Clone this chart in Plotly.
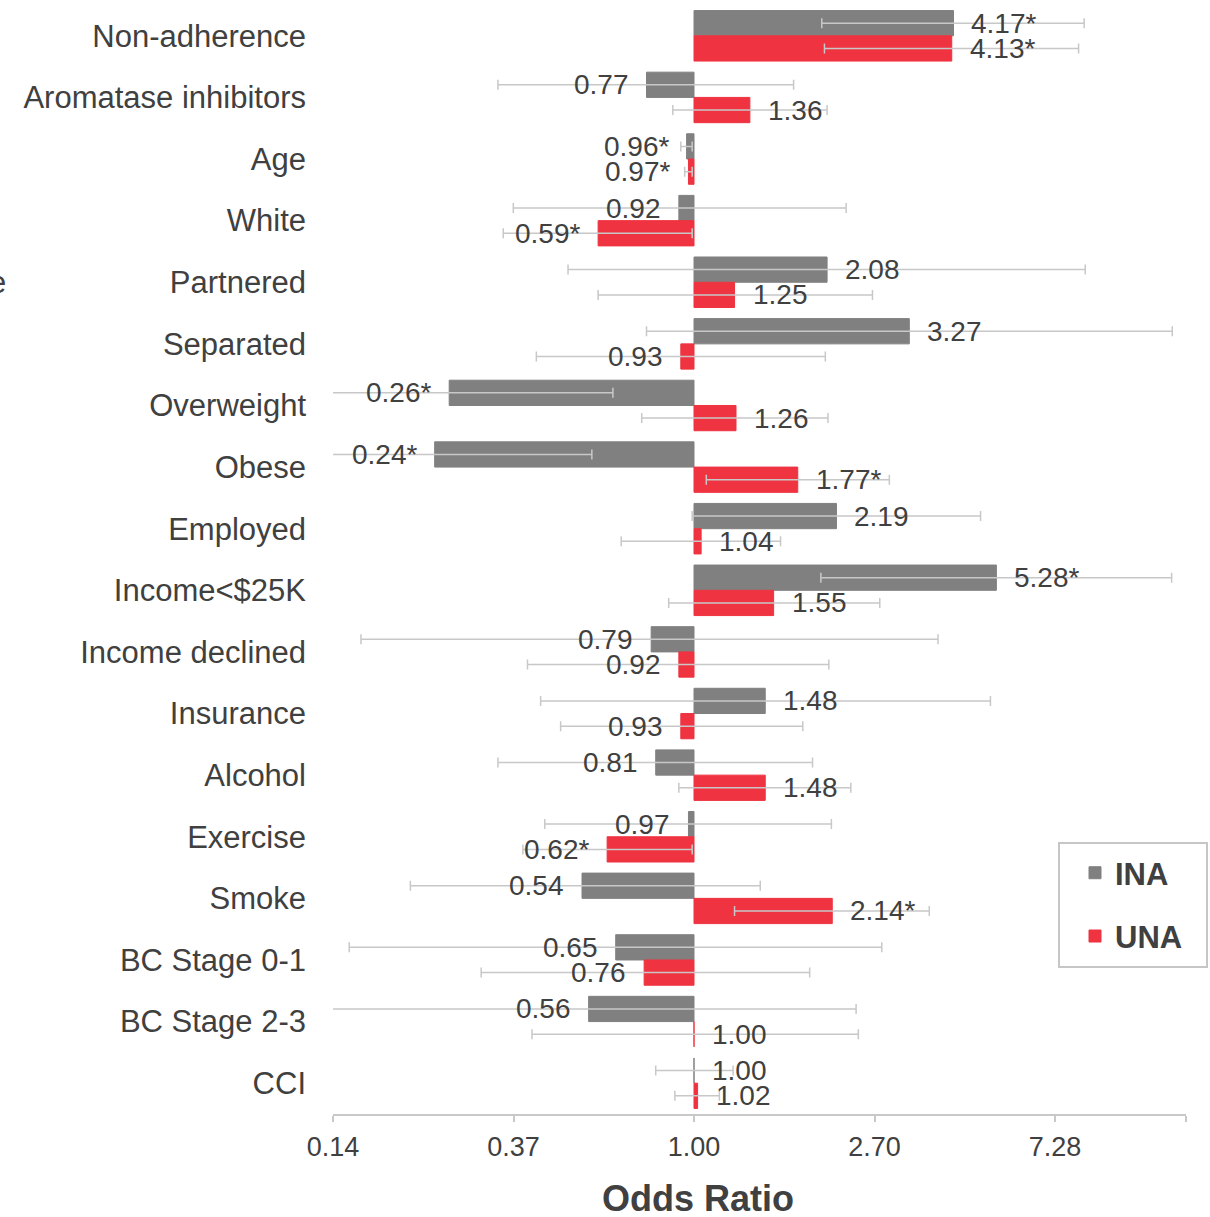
import math
import plotly.graph_objects as go

categories = ["Non-adherence", "Aromatase inhibitors", "Age", "White", "Partnered",
              "Separated", "Overweight", "Obese", "Employed", "Income<$25K",
              "Income declined", "Insurance", "Alcohol", "Exercise", "Smoke",
              "BC Stage 0-1", "BC Stage 2-3", "CCI"]

ina_or = [4.17, 0.77, 0.96, 0.92, 2.08, 3.27, 0.26, 0.24, 2.19, 5.28,
          0.79, 1.48, 0.81, 0.97, 0.54, 0.65, 0.56, 1.00]
ina_lo = [2.02, 0.34, 0.93, 0.37, 0.50, 0.77, 0.10, 0.10, 0.99, 2.01,
          0.16, 0.43, 0.34, 0.44, 0.21, 0.15, 0.12, 0.81]
ina_hi = [8.56, 1.73, 0.99, 2.31, 8.61, 13.9, 0.64, 0.57, 4.84, 13.85,
          3.83, 5.11, 1.92, 2.13, 1.44, 2.81, 2.44, 1.24]
ina_labels = ["4.17*", "0.77", "0.96*", "0.92", "2.08", "3.27", "0.26*", "0.24*", "2.19", "5.28*",
              "0.79", "1.48", "0.81", "0.97", "0.54", "0.65", "0.56", "1.00"]

una_or = [4.13, 1.36, 0.97, 0.59, 1.25, 0.93, 1.26, 1.77, 1.04, 1.55,
          0.92, 0.93, 1.48, 0.62, 2.14, 0.76, 1.00, 1.02]
una_lo = [2.05, 0.89, 0.95, 0.35, 0.59, 0.42, 0.75, 1.07, 0.67, 0.87,
          0.40, 0.48, 0.92, 0.39, 1.25, 0.31, 0.41, 0.90]
una_hi = [8.30, 2.08, 0.99, 0.99, 2.67, 2.06, 2.09, 2.93, 1.61, 2.78,
          2.10, 1.82, 2.37, 0.99, 3.65, 1.89, 2.47, 1.15]
una_labels = ["4.13*", "1.36", "0.97*", "0.59*", "1.25", "0.93", "1.26", "1.77*", "1.04", "1.55",
              "0.92", "0.93", "1.48", "0.62*", "2.14*", "0.76", "1.00", "1.02"]

tick_vals = [2.7 ** -2, 2.7 ** -1, 1.0, 2.7, 2.7 ** 2]
tick_text = ["0.14", "0.37", "1.00", "2.70", "7.28"]

GRAY = "#808080"
RED = "#EF3340"
TXT = "#404040"
ERR = "#c8c8c8"
FONT = "Liberation Sans, Arial, sans-serif"

idx = list(range(len(categories)))
off = 0.205
y_ina = [i - off for i in idx]
y_una = [i + off for i in idx]

fig = go.Figure()

series = [
    ("INA", ina_or, ina_lo, ina_hi, ina_labels, y_ina, GRAY, "a"),
    ("UNA", una_or, una_lo, una_hi, una_labels, y_una, RED, "b"),
]

for name, orv, lo, hi, labs, yy, col, grp in series:
    fig.add_trace(go.Bar(
        name=name, orientation="h", y=yy, x=[v - 1 for v in orv], base=1,
        width=0.41, marker=dict(color=col, line=dict(color=col, width=1)),
        legendgroup=grp, hoverinfo="skip"))

for name, orv, lo, hi, labs, yy, col, grp in series:
    fig.add_trace(go.Scatter(
        x=orv, y=yy, mode="markers", marker=dict(size=1, opacity=0),
        error_x=dict(type="data", symmetric=False,
                     array=[h - v for h, v in zip(hi, orv)],
                     arrayminus=[v - l for v, l in zip(orv, lo)],
                     color=ERR, thickness=1.5, width=5),
        showlegend=False, hoverinfo="skip"))

annotations = []
for name, orv, lo, hi, labs, yy, col, grp in series:
    for v, lab, y in zip(orv, labs, yy):
        right = v >= 1
        annotations.append(dict(
            x=math.log10(v), y=y, xref="x", yref="y", text=lab, showarrow=False,
            xanchor="left" if right else "right", yanchor="middle",
            xshift=16 if right else -16,
            font=dict(family=FONT, size=28, color=TXT)))

annotations.append(dict(
    x=0.428, y=-0.0765, xref="paper", yref="paper", text="<b>Odds Ratio</b>",
    showarrow=False, xanchor="center", yanchor="middle",
    font=dict(family=FONT, size=36, color=TXT)))
annotations.append(dict(
    x=-0.381, y=(1114 - 282) / 1109.3, xref="paper", yref="paper", text="e",
    showarrow=False, xanchor="right", yanchor="middle",
    font=dict(family=FONT, size=31, color=TXT)))

x_lo = math.log10(2.7 ** -2)
x_hi = 1.1758

PW = 853.0
PH = 1109.3
def px_x(p):
    return (p - 333) / PW
def px_y(p):
    return (1114 - p) / PH

shapes = [dict(type="rect", xref="paper", yref="paper",
               x0=px_x(1059), x1=px_x(1207), y0=px_y(967), y1=px_y(843),
               line=dict(color="#c6c6c6", width=2), fillcolor="white", layer="below")]

fig.update_layout(
    width=1210, height=1217,
    margin=dict(l=333, r=24, t=5, b=103),
    paper_bgcolor="white", plot_bgcolor="white",
    barmode="overlay",
    font=dict(family=FONT, color=TXT),
    showlegend=True,
    legend=dict(x=px_x(1075), y=px_y(846), xanchor="left", yanchor="top",
                bgcolor="rgba(0,0,0,0)", borderwidth=0,
                font=dict(size=31, color=TXT, family=FONT, weight="bold"),
                tracegroupgap=20, itemwidth=30),
    annotations=annotations,
    shapes=shapes,
)

fig.update_xaxes(
    type="log", range=[x_lo, x_hi],
    tickvals=tick_vals + [10 ** x_hi], ticktext=tick_text + [""],
    ticks="outside", ticklen=6, tickcolor="#c8c8c8", tickwidth=1.5,
    showline=True, linecolor="#c8c8c8", linewidth=2,
    showgrid=False, zeroline=False,
    tickfont=dict(size=27, color=TXT), ticklabelstandoff=2,
)
fig.update_yaxes(
    range=[17.5, -0.5], tickvals=idx, ticktext=categories,
    showgrid=False, zeroline=False, showline=False, ticks="",
    tickfont=dict(size=31, color=TXT), ticklabelstandoff=26,
)

fig.write_html("out.html")
